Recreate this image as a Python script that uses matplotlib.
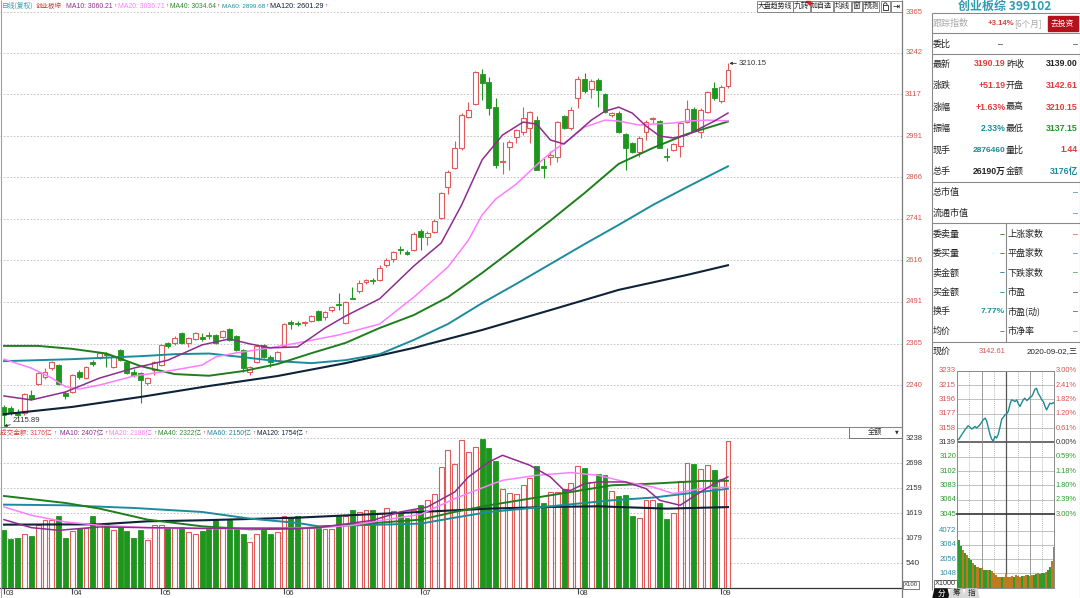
import matplotlib
matplotlib.use('Agg')
import matplotlib.pyplot as plt
from matplotlib import font_manager
from matplotlib.patches import Rectangle, Polygon, Arc
import numpy as np

# ---------------- data ----------------
opens = [2174,2171,2158,2156,2210,2243,2264,2291,2300,2216,
         2219,2279,2261,2309,2322,2333,2294,2346,2309,2279,
         2276,2246,2285,2300,2367,2367,2397,2367,2379,2385,
         2391,2391,2385,2409,2388,2346,2279,2309,2361,2325,
         2315,2358,2430,2427,2427,2433,2463,2445,2466,2484,
         2427,2503,2524,2551,2557,2557,2602,2620,2650,2641,
         2647,2704,2686,2701,2744,2837,2895,2955,3048,3088,
         3178,3154,3079,2914,2958,2988,3003,3015,3039,2901,
         2928,2928,3051,3015,3106,3163,3133,3160,3118,3054,
         3060,2997,2970,2943,3003,3042,3036,2931,2949,2961,
         3033,3072,3003,3063,3136,3097,3142.61]
highs = [2180,2177,2168,2216,2225,2279,2290,2312,2303,2222,
         2273,2285,2297,2315,2340,2340,2330,2349,2312,2288,
         2279,2264,2312,2364,2370,2388,2400,2385,2400,2397,
         2400,2394,2406,2412,2391,2349,2297,2361,2364,2330,
         2343,2427,2436,2433,2433,2451,2466,2463,2478,2517,
         2493,2536,2557,2560,2563,2602,2624,2644,2660,2647,
         2701,2710,2704,2741,2822,2889,2975,3060,3093,3187,
         3193,3169,3106,2973,2979,3012,3079,3066,3052,2925,
         2945,3036,3055,3079,3172,3181,3163,3166,3121,3063,
         3066,3000,2973,2990,3039,3048,3040,2955,2970,3033,
         3100,3078,3075,3127,3153,3145,3210.15]
lows = [2115.89,2150,2140,2150,2195,2240,2258,2285,2240,2198,
        2216,2258,2258,2297,2318,2294,2290,2312,2273,2264,
        2186,2240,2270,2297,2352,2362,2364,2355,2376,2373,
        2379,2364,2382,2373,2343,2279,2270,2306,2322,2294,
        2312,2355,2410,2418,2418,2430,2433,2436,2460,2466,
        2424,2500,2518,2545,2545,2554,2596,2611,2635,2632,
        2644,2647,2662,2698,2741,2816,2892,2950,3045,3085,
        3100,3054,2895,2877,2888,2970,2995,2970,2888,2865,
        2905,2914,3012,3010,3075,3120,3106,3079,3060,3048,
        3000,2888,2940,2929,2979,3030,2955,2916,2946,2929,
        3030,3006,2985,3060,3100,3090,3137.15]
closes = [2150,2156,2150,2213,2198,2276,2279,2309,2243,2207,
          2270,2264,2294,2303,2337,2330,2327,2315,2276,2270,
          2255,2261,2309,2361,2358,2382,2367,2382,2397,2379,
          2388,2367,2403,2376,2346,2291,2294,2358,2325,2309,
          2340,2424,2424,2424,2430,2448,2436,2460,2475,2481,
          2490,2500,2548,2557,2554,2593,2617,2641,2647,2635,
          2695,2686,2698,2735,2819,2883,2955,3054,3069,3184,
          3151,3075,2903,2917,2973,3009,3045,3063,2889,2895,
          2934,3033,3015,3069,3163,3127,3157,3130,3064,3060,
          3003,2955,2943,2985,3033,3045,2955,2928,2967,3030,
          3072,3006,3069,3124,3106,3139,3190.19]
amount = [1267,1058,1094,1181,1138,1361,1469,1469,1570,1087,
          1238,1310,1310,1570,1382,1382,1253,1339,1238,1087,
          1267,1037,1375,1375,1310,1296,1324,1210,1166,1238,
          1310,1469,1310,1469,1274,1166,994,1166,1267,1166,
          1223,1570,1541,1555,1296,1296,1310,1289,1289,1577,
          1555,1685,1649,1699,1685,1634,1735,1663,1627,1526,
          1685,1793,1915,2045,2621,2981,2678,3197,2945,3053,
          3230,3038,2750,2153,2059,2030,2225,2391,2635,1843,
          2081,2081,2138,2275,2635,2599,2297,2477,2441,2095,
          1994,2023,1555,1526,1915,1901,1843,1505,1634,2311,
          2715,2693,2585,2657,2549,2369,3176]

ma10_idx = [0,4,9,14,19,24,29,33,36,39,43,47,50,55,60,64,67,70,73,76,78,80,82,84,86,88,90,92,94,96,98,100,102,104,106]
ma10_val = [2207,2195,2219,2261,2291,2315,2361,2379,2364,2352,2355,2412,2448,2500,2599,2668,2783,2919,2994,3033,
            3027,2979,2967,3003,3039,3066,3078,3060,3021,2991,2985,2994,3015,3036,3060.21]
ma20_idx = [0,4,7,9,11,14,19,24,29,31,34,38,43,49,55,60,65,68,70,72,75,78,80,83,85,88,90,93,95,98,100,103,106]
ma20_val = [2318,2291,2261,2235,2228,2240,2267,2282,2300,2325,2337,2349,2367,2391,2424,2505,2596,2677,2753,2801,
            2846,2904,2940,2985,3018,3039,3036,3024,3027,3030,3036,3039,3036.71]
ma40_idx = [0,5,10,15,20,25,30,35,40,45,50,55,60,65,70,75,80,85,90,95,100,106]
ma40_val = [2358,2358,2349,2335,2297,2273,2268,2282,2303,2336,2367,2412,2451,2505,2578,2656,2736,2819,2907,2955,2997,3034.64]
ma60_idx = [0,10,20,25,30,35,40,45,50,55,60,65,70,75,80,85,90,95,100,106]
ma60_val = [2312,2318,2327,2333,2335,2324,2312,2306,2315,2333,2376,2424,2487,2545,2605,2665,2723,2783,2837,2899.68]
ma120_idx = [0,10,20,30,40,50,60,70,80,90,100,106]
ma120_val = [2152,2174,2204,2237,2267,2306,2352,2406,2466,2527,2572,2601.29]

vma10_idx = [0,4,8,14,21,29,36,43,46,54,58,62,66,68,71,73,75,77,80,82,83,85,87,91,94,96,99,102,104,106]
vma10_val = [1483,1310,1253,1325,1310,1296,1300,1296,1310,1469,1649,1757,2081,2405,2729,2873,2765,2657,2405,2117,
             2117,2261,2297,2297,2153,1901,1793,2081,2261,2407]
vma20_idx = [0,4,9,14,21,29,36,43,46,51,56,61,66,71,73,78,83,87,89,91,95,98,102,106]
vma20_val = [1757,1577,1433,1361,1310,1289,1289,1310,1310,1361,1483,1598,1937,2225,2333,2441,2499,2441,2369,2297,
             2189,2045,2153,2186]
vma40_idx = [0,9,14,21,29,36,43,46,61,66,71,80,89,95,102,106]
vma40_val = [1994,1843,1721,1484,1339,1274,1289,1320,1483,1649,1793,2009,2225,2261,2318,2322]
vma60_idx = [0,9,19,29,36,43,46,61,66,71,80,89,95,99,106]
vma60_val = [1807,1793,1735,1649,1505,1411,1340,1397,1526,1649,1771,1901,1959,2030,2150]
vma120_idx = [0,14,21,29,43,61,71,80,87,97,106]
vma120_val = [1375,1382,1447,1469,1526,1649,1721,1757,1771,1721,1754]

month_labels = ['03', '04', '05', '06', '07', '08', '09']
month_pos = [0, 10, 23, 41, 61, 84, 105]
price_ticks = [3365, 3242, 3117, 2991, 2866, 2741, 2616, 2491, 2365, 2240]
vol_ticks = [3238, 2698, 2159, 1619, 1079, 540]

intra_min = [0,3,11,19,27,31,36,44,48,56,64,69,73,77,81,85,89,93,97,101,106,110,114,118,122,126,130,134,139,143,
             147,151,155,159,163,167,172,176,180,184,188,192,196,200,205,209,213,217,221,225,229,233,238,240]
intra_price = [3142.6,3142.5,3149.0,3155.5,3160.8,3159.0,3156.4,3159.9,3157.7,3162.1,3168.6,3170.8,3166.4,3157.7,
               3149.0,3143.4,3140.3,3146.8,3144.7,3149.0,3159.9,3169.5,3172.1,3175.1,3176.4,3179.5,3188.2,3194.7,
               3193.8,3192.5,3194.7,3189.5,3186.0,3190.4,3194.7,3196.9,3193.8,3195.6,3198.2,3199.1,3203.4,3208.6,
               3209.9,3203.4,3199.1,3194.7,3192.5,3186.0,3181.6,3186.0,3190.4,3189.5,3191.2,3190.2]
intra_vmin = [0,5,10,15,20,25,30,35,40,45,50,55,60,65,70,75,80,85,90,95,100,105,110,115,120,
              125,130,135,140,145,150,155,160,165,170,175,180,185,190,195,200,205,210,215,220,225,230,235,240]
intra_vol = [5062,3408,3000,2698,2500,2343,2100,1988,1751,1650,1515,1450,1396,1300,1280,1278,1278,1200,1041,900,
             805,760,757,800,1000,800,805,850,805,900,850,805,880,860,900,900,880,920,950,1000,1041,1000,1041,
             1100,1160,1300,1515,1900,2935]
intra_dir = "oggogoggog" + "ogoggogooo" + "oogooooogo" + "oogoogoogg" + "ogggoggoo"
intra_left_labels = ['3233','3215','3196','3177','3158','3139','3120','3102','3083','3064','3045']
intra_right_labels = ['3.00%','2.41%','1.82%','1.20%','0.61%','0.00%','0.59%','1.18%','1.80%','2.39%','3.00%']
intra_vol_ticks = [4072, 3064, 2056, 1048]

# ---------------- fonts ----------------
avail = {f.name for f in font_manager.fontManager.ttflist}
NARROW = 'Liberation Sans Narrow' if 'Liberation Sans Narrow' in avail else 'Liberation Sans'
NUM = [NARROW, 'Noto Sans CJK SC', 'DejaVu Sans']
CJK = ['Noto Sans CJK SC', 'DejaVu Sans']
TITLEF = (['Noto Serif CJK SC', 'Noto Sans CJK SC'] if 'Noto Serif CJK SC' in avail else CJK)
plt.rcParams['font.family'] = CJK

RED = '#E05A5A'
GREEN = '#1E961E'
C10, C20, C40, C60, C120 = '#8E2D8E', '#FF7DFF', '#1E7E1E', '#1C8C9C', '#0E2238'
GRID = '#BDBDBD'

W, H = 1080.0, 598.0
fig = plt.figure(figsize=(10.8, 5.98), dpi=100)
fig.patch.set_facecolor('white')
renderer = fig.canvas.get_renderer()


def px_axes(x0, y0, x1, y1):
    return fig.add_axes([x0 / W, 1 - y1 / H, (x1 - x0) / W, (y1 - y0) / H])


def fit(t, width):
    bb = t.get_window_extent(renderer=renderer)
    if bb.width > width:
        t.set_fontsize(t.get_fontsize() * width / bb.width)
    return t


n = len(closes)
XL = (-0.586, 131.48)

# ---------------- price panel ----------------
axp = px_axes(0, 0, 902, 427)
axp.set_xlim(*XL)
axp.set_ylim(2113.4, 3401.2)
for s in axp.spines.values():
    s.set_visible(False)
axp.set_xticks([]); axp.set_yticks([])
for v in price_ticks:
    axp.axhline(v, color=GRID, lw=0.6, ls=(0, (2, 2)), zorder=0)
    t = axp.text(1.0035, v, str(v), transform=axp.get_yaxis_transform(), color='#D9534F',
                 fontsize=6, family=NUM, va='center', ha='left', clip_on=False)
    fit(t, 17)

bw = 0.72
for i in range(n):
    o, h, l, c = opens[i], highs[i], lows[i], closes[i]
    up = c >= o
    col = RED if up else GREEN
    lo, hi = min(o, c), max(o, c)
    axp.plot([i, i], [l, lo], color=col, lw=0.8, zorder=3, solid_capstyle='butt')
    axp.plot([i, i], [hi, h], color=col, lw=0.8, zorder=3, solid_capstyle='butt')
    hgt = max(hi - lo, 1.2)
    if up:
        axp.add_patch(Rectangle((i - bw / 2, lo), bw, hgt, facecolor='white', edgecolor=col, lw=0.8, zorder=3))
    else:
        axp.add_patch(Rectangle((i - bw / 2, lo), bw, hgt, facecolor=col, edgecolor=col, lw=0.6, zorder=3))

for idx, val, col, lw in [(ma120_idx, ma120_val, C120, 1.5), (ma60_idx, ma60_val, C60, 1.4),
                          (ma40_idx, ma40_val, C40, 1.4), (ma20_idx, ma20_val, C20, 1.1),
                          (ma10_idx, ma10_val, C10, 1.1)]:
    axp.plot(idx, val, color=col, lw=lw, zorder=4)

axp.annotate('3210.15', xy=(106.2, highs[-1]), xytext=(7, 0), textcoords='offset points',
             fontsize=5.6, family=NUM, color='#333333', va='center', ha='left',
             arrowprops=dict(arrowstyle='-|>', color='#333333', lw=0.6, mutation_scale=4,
                             shrinkA=0, shrinkB=0))
axp.annotate('2115.89', xy=(0, lows[0]), xytext=(6.5, 3.8), textcoords='offset points',
             fontsize=5.6, family=NUM, color='#333333', va='center', ha='left',
             arrowprops=dict(arrowstyle='-|>', color='#333333', lw=0.6, mutation_scale=4,
                             shrinkA=0, shrinkB=0))

# ---------------- volume panel ----------------
axv = px_axes(0, 427, 902, 588.3)
axv.set_xlim(*XL)
axv.set_ylim(0, 3484)
for k, s in axv.spines.items():
    s.set_visible(k == 'bottom')
axv.spines['bottom'].set_color('#333333')
axv.spines['bottom'].set_linewidth(0.9)
axv.set_yticks([])
axv.set_xticks(month_pos)
axv.tick_params(axis='x', length=4.5, width=0.8, color='#444444', direction='out', labelbottom=False)
for p, lab in zip(month_pos, month_labels):
    axv.text(p + 0.25, -0.012, lab, transform=axv.get_xaxis_transform(), va='top', ha='left',
             fontsize=5.6, family=NUM, color='#333333', clip_on=False)
for v in vol_ticks:
    axv.axhline(v, color=GRID, lw=0.6, ls=(0, (2, 2)), zorder=0)
    t = axv.text(1.0035, v, str(v), transform=axv.get_yaxis_transform(), color='#333333',
                 fontsize=6, family=NUM, va='center', ha='left', clip_on=False)
    fit(t, 17)
for i in range(n):
    up = closes[i] >= opens[i]
    if up:
        axv.add_patch(Rectangle((i - bw / 2, 0), bw, amount[i], facecolor='white', edgecolor=RED, lw=0.8, zorder=3))
    else:
        axv.add_patch(Rectangle((i - bw / 2, 0), bw, amount[i], facecolor=GREEN, edgecolor=GREEN, lw=0.6, zorder=3))
for idx, val, col, lw in [(vma120_idx, vma120_val, C120, 1.5), (vma60_idx, vma60_val, C60, 1.4),
                          (vma40_idx, vma40_val, C40, 1.4), (vma20_idx, vma20_val, C20, 1.1),
                          (vma10_idx, vma10_val, C10, 1.1)]:
    axv.plot(idx, val, color=col, lw=lw, zorder=4)

# ---------------- intraday mini chart ----------------
axi = px_axes(957.3, 370.7, 1054.3, 514)
axi.set_xlim(0, 240)
axi.set_ylim(3045, 3233)
axi.set_xticks([]); axi.set_yticks([])
for s in axi.spines.values():
    s.set_color('#8A8A8A'); s.set_linewidth(0.7)
levels = np.linspace(3045, 3233, 11)
for k, v in enumerate(levels):
    if k == 5:
        axi.axhline(v, color='#444444', lw=1.1, zorder=1)
        lc = '#333333'
    else:
        axi.axhline(v, color='#A8A8A8', lw=0.5, zorder=1)
        lc = '#E05050' if k > 5 else '#2E9B2E'
    t = axi.text(-0.012, v, intra_left_labels[10 - k], transform=axi.get_yaxis_transform(), ha='right',
                 va='center', fontsize=5.8, family=NUM, color=lc, clip_on=False)
    fit(t, 17)
    t = axi.text(1.012, v, intra_right_labels[10 - k], transform=axi.get_yaxis_transform(), ha='left',
                 va='center', fontsize=5.8, family=NUM, color=lc, clip_on=False)
    fit(t, 21)
for m, st in [(30, 'd'), (60, 's'), (90, 'd'), (120, 'k'), (150, 'd'), (180, 's'), (210, 'd')]:
    if st == 'd':
        axi.axvline(m, color='#A0A0A0', lw=0.5, ls=(0, (1.5, 1.5)), zorder=1)
    elif st == 's':
        axi.axvline(m, color='#8A8A8A', lw=0.6, zorder=1)
    else:
        axi.axvline(m, color='#555555', lw=0.9, zorder=1)
axi.plot(intra_min, intra_price, color='#1F8A95', lw=1.0, zorder=3)

axiv = px_axes(957.3, 514, 1054.3, 588)
axiv.set_xlim(0, 240)
axiv.set_ylim(0, 5253)
axiv.set_xticks([]); axiv.set_yticks([])
for s in axiv.spines.values():
    s.set_color('#8A8A8A'); s.set_linewidth(0.7)
axiv.spines['top'].set_color('#333333'); axiv.spines['top'].set_linewidth(1.2)
for v in intra_vol_ticks:
    axiv.axhline(v, color='#A8A8A8', lw=0.5, zorder=1)
    t = axiv.text(-0.012, v, str(v), transform=axiv.get_yaxis_transform(), ha='right', va='center',
                  fontsize=5.8, family=NUM, color='#2E8FA0', clip_on=False)
    fit(t, 17)
for m, st in [(30, 'd'), (60, 's'), (90, 'd'), (120, 'k'), (150, 'd'), (180, 's'), (210, 'd')]:
    if st == 'd':
        axiv.axvline(m, color='#A0A0A0', lw=0.5, ls=(0, (1.5, 1.5)), zorder=1)
    elif st == 's':
        axiv.axvline(m, color='#8A8A8A', lw=0.6, zorder=1)
    else:
        axiv.axvline(m, color='#555555', lw=0.9, zorder=1)
bar_cols = ['#C07A22' if d == 'o' else '#2E9B2E' for d in intra_dir]
axiv.bar(intra_vmin, intra_vol, width=5, color=bar_cols, align='center', zorder=2, linewidth=0)

# ---------------- overlay (UI text, frames) ----------------
ov = fig.add_axes([0, 0, 1, 1])
ov.set_xlim(0, W); ov.set_ylim(H, 0)
ov.axis('off')
ov.patch.set_visible(False)
ov.set_zorder(10)


def T(x, y, s, color='#222222', size=6.5, fam=CJK, ha='left', width=None, **kw):
    t = ov.text(x, y, s, color=color, fontsize=size, family=fam, ha=ha, va='center', **kw)
    if width is not None:
        fit(t, width)
    return t


def L(x0, y0, x1, y1, color='#8A8A8A', lw=0.8, **kw):
    ov.plot([x0, x1], [y0, y1], color=color, lw=lw, solid_capstyle='butt', **kw)


def UP(x, y):
    # little red "up" arrow glyph after each legend value
    T(x + 1.6, y, '↑', '#E03030', 4.6, ['DejaVu Sans'], ha='center', width=3.2)


# frames
L(1, 0, 1, 598, '#A0A0A0', 0.8)
L(902, 0, 902, 598, '#7A7A7A', 0.9)
L(0, 427, 902, 427, '#8A8A8A', 0.8)

# price legend
T(2, 6, '日线(复权)', '#2E9DB0', 5.4, width=32)
T(36, 6, '创业板综', '#C0392B', 5.4, width=26)
for x, s, col, ax_, x2 in [(66, 'MA10: 3060.21', C10, 113, 118), (118.5, 'MA20: 3036.71', C20, 165.5, 170),
                           (170.5, 'MA40: 3034.64', '#2E8B2E', 216.5, 221.5),
                           (221.5, 'MA60: 2899.68', C60, 265.5, 270.5),
                           (270.5, 'MA120: 2601.29', C120, 324, 330)]:
    T(x, 6, s, col, 5.8, NUM, width=ax_ - x - 0.5)
    UP(ax_, 6)

# volume legend
T(0, 433.3, '成交金额: 3176亿', '#E04040', 5.4, NUM, width=52)
UP(53, 433.3)
for x, s, col, ax_ in [(60, 'MA10: 2407亿', C10, 104), (109.3, 'MA20: 2186亿', C20, 153),
                       (158, 'MA40: 2322亿', '#2E8B2E', 201.7), (207, 'MA60: 2150亿', C60, 251.8),
                       (257, 'MA120: 1754亿', C120, 304)]:
    T(x, 433.3, s, col, 5.4, NUM, width=ax_ - x - 0.5)
    UP(ax_, 433.3)

# dropdown "全额"
ov.add_patch(Rectangle((849, 426.5), 53, 11.5, fill=False, ec='#777777', lw=0.7))
T(875, 432.3, '全额', '#333333', 5.2, ha='center')
T(897, 432.3, '▼', '#333333', 3.5, ['DejaVu Sans'], ha='center')

# X100 box
ov.add_patch(Rectangle((902.7, 580.5), 16, 8, fill=False, ec='#666666', lw=0.6))
T(910.7, 584.5, 'X100', '#333333', 5.2, NUM, ha='center', width=14)

# toolbar buttons
for lab, x0, x1 in [('大盘趋势线', 756.7, 792.7), ('九转', 792.7, 810), ('加自选', 810.7, 833),
                    ('均线', 834, 850.7), ('窗', 851.7, 861.7), ('预测', 862.7, 879.3)]:
    ov.add_patch(Rectangle((x0, 0.5), x1 - x0, 11, fill=False, ec='#777777', lw=0.6))
    T((x0 + x1) / 2, 6, lab, '#222222', 5.6, ha='center', width=x1 - x0 - 1.5)
ov.add_patch(Polygon([(805.5, 0.5), (810, 0.5), (810, 5)], closed=True, color='#E02020'))
ov.add_patch(Rectangle((880.7, 0.5), 9.3, 11, fill=False, ec='#777777', lw=0.6))
ov.add_patch(Rectangle((882.8, 5.3), 5, 4.6, fill=False, ec='#222222', lw=0.6))
ov.add_patch(Arc((885.3, 5.3), 3.6, 5, theta1=180, theta2=360, ec='#222222', lw=0.6))
ov.add_patch(Rectangle((890.7, 0.5), 11, 11, fill=False, ec='#777777', lw=0.6))
T(896.2, 6, '⇥', '#111111', 6, ['DejaVu Sans'], ha='center')

# ---------------- right info panel ----------------
T(1005, 6.5, '创业板综 399102', '#2E9DB0', 9, TITLEF, ha='center', fontweight='bold', width=93)
PX0, PX1 = 931.5, 1079.5
L(PX0, 13.3, PX1, 13.3, '#8A8A8A', 0.8)
L(PX0, 13.3, PX0, 590, '#8A8A8A', 0.8)
L(PX1, 13.3, PX1, 598, '#8A8A8A', 0.8)
for yy in [33.3, 54, 181.7, 223.3, 341.7]:
    L(PX0, yy, PX1, yy, '#8A8A8A', 0.8)

T(933, 23.3, '跟踪指数', '#A8A8A8', 6.5)
T(1014, 23.3, '+3.14%', '#E03C3C', 6.2, NUM, ha='right', fontweight='bold', width=27)
T(1014, 23.3, '[6个月]', '#A8A8A8', 6.2, width=28)
ov.add_patch(Rectangle((1047.5, 16.3), 30.5, 14.5, color='#B3121B'))
T(1062.7, 23.5, '去投资', 'white', 5.6, ha='center')

T(933, 44.3, '委比', '#222222', 6.5)
T(1003, 44.3, '–', '#333333', 6.5, NUM, ha='right')
T(1078, 44.3, '–', '#333333', 6.5, NUM, ha='right')

rows = [('最新', '3190.19', '#E03C3C', '昨收', '3139.00', '#222222'),
        ('涨跌', '+51.19', '#E03C3C', '开盘', '3142.61', '#E03C3C'),
        ('涨幅', '+1.63%', '#E03C3C', '最高', '3210.15', '#E03C3C'),
        ('振幅', '2.33%', '#1A8A9A', '最低', '3137.15', '#1E9A1E'),
        ('现手', '2876460', '#1A8A9A', '量比', '1.44', '#E03C3C'),
        ('总手', '26190万', '#222222', '金额', '3176亿', '#1A8A9A')]
for (l1, v1, c1, l2, v2, c2), yy in zip(rows, [64, 85.5, 107, 128.3, 150, 171.7]):
    T(932.5, yy, l1, '#222222', 6.5)
    T(1005.5, yy, v1, c1, 6.3, NUM, ha='right', fontweight='bold', width=33)
    T(1006, yy, l2, '#222222', 6.5)
    T(1078, yy, v2, c2, 6.3, NUM, ha='right', fontweight='bold', width=33)

T(932.5, 192.7, '总市值', '#222222', 6.5)
T(1078, 192.7, '–', '#1A8A9A', 6.5, NUM, ha='right')
T(932.5, 213.3, '流通市值', '#222222', 6.5)
T(1078, 213.3, '–', '#1A8A9A', 6.5, NUM, ha='right')

L(1006, 223.3, 1006, 341.7, '#8A8A8A', 0.8)
left_rows = [('委卖量', '–', '#1E9A1E'), ('委买量', '–', '#E03C3C'), ('卖金额', '–', '#1A8A9A'),
             ('买金额', '–', '#1A8A9A'), ('换手', '7.77%', '#1A8A9A'), ('均价', '–', '#777777')]
right_rows = [('上涨家数', '–', '#E03C3C'), ('平盘家数', '–', '#1A8A9A'), ('下跌家数', '–', '#1E9A1E'),
              ('市盈', '–', '#333333'), ('市盈(动)', '–', '#333333'), ('市净率', '–', '#777777')]
for (la, va_, ca), (lb, vb, cb), yy in zip(left_rows, right_rows, [234.3, 253.3, 273, 292.7, 311.7, 331.7]):
    T(932.5, yy, la, '#222222', 6.5)
    T(1004.5, yy, va_, ca, 6.3, NUM, ha='right', fontweight='bold', width=24)
    T(1008, yy, lb, '#222222', 6.5, width=38)
    T(1078, yy, vb, cb, 6.3, NUM, ha='right')

T(932.5, 351.7, '现价', '#222222', 6.5)
T(1005, 351.7, '3142.61', '#E05050', 6.3, NUM, ha='right', width=27)
T(1078, 351.7, '2020-09-02,三', '#222222', 6.0, NUM, ha='right', width=52)

# X1000 box
ov.add_patch(Rectangle((933.5, 579.5), 23, 8, fill=False, ec='#666666', lw=0.6))
T(945, 583.5, 'X1000', '#333333', 5.2, NUM, ha='center', width=21)

# bottom tabs
ov.add_patch(Polygon([(933, 598), (935, 589), (947, 589), (949, 598)], closed=True, color='#111111'))
T(941, 593.5, '分', 'white', 5.5, ha='center')
ov.add_patch(Polygon([(949, 598), (951, 589), (962, 589), (964, 598)], closed=True, color='#D8D8D8'))
T(956.5, 593.5, '筹', '#222222', 5.5, ha='center')
ov.add_patch(Polygon([(964, 598), (966, 589), (977, 589), (979, 598)], closed=True, color='#D8D8D8'))
T(971.5, 593.5, '指', '#222222', 5.5, ha='center')

fig.savefig('out.png', dpi=100, facecolor='white')
